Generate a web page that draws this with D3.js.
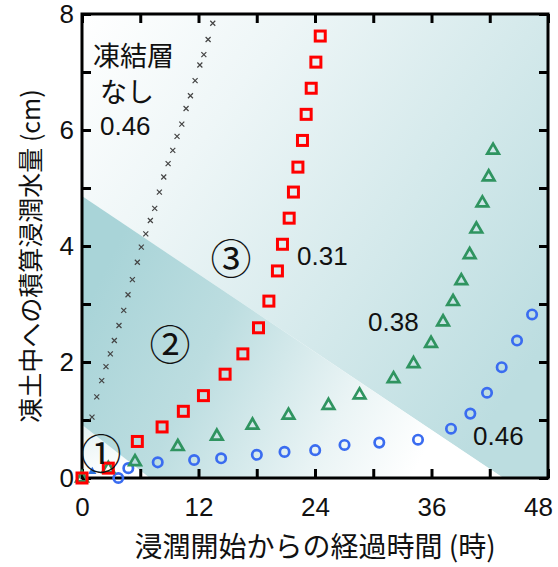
<!DOCTYPE html>
<html>
<head>
<meta charset="utf-8">
<script src="https://cdn.jsdelivr.net/npm/d3@7"></script>
<style>
  body { margin: 0; background: #fff; }
  text { fill: #111; }
</style>
</head>
<body>
<div id="chart"></div>
<script>
// --- data (hours since start of infiltration, cumulative infiltration cm) ---
const xTicks = [0, 6, 12, 18, 24, 30, 36, 42, 48];
const xLabels = [0, 12, 24, 36, 48];
const yTicks = [0, 1, 2, 3, 4, 5, 6, 7, 8];
const yLabels = [0, 2, 4, 6, 8];

// no frozen layer, 0.46
const noFrostHours = [1.03, 1.52, 2.03, 2.47, 2.92, 3.33, 3.81, 4.30, 4.74, 5.19, 5.70, 6.11, 6.57, 7.04, 7.49, 7.97, 8.42, 8.87, 9.35, 9.79, 10.28, 10.72, 11.17, 11.65, 12.14, 12.55, 12.99, 13.47];
const noFrostWater = [1.05, 1.40, 1.68, 1.92, 2.14, 2.37, 2.63, 2.89, 3.16, 3.42, 3.72, 3.98, 4.21, 4.44, 4.65, 4.93, 5.19, 5.42, 5.65, 5.89, 6.10, 6.37, 6.59, 6.85, 7.12, 7.30, 7.56, 7.84];

// 0.31 (red squares)
const s031Hours = [0, 2.71, 5.70, 8.25, 10.44, 12.51, 14.74, 16.57, 18.18, 19.25, 20.13, 20.65, 21.34, 21.78, 22.24, 22.71, 23.09, 23.61, 24.09, 24.54];
const s031Water = [0, 0.17, 0.63, 0.88, 1.15, 1.42, 1.79, 2.14, 2.59, 3.05, 3.57, 4.03, 4.48, 4.93, 5.36, 5.82, 6.27, 6.72, 7.17, 7.62];

// 0.38 (green triangles)
const s038Hours = [0, 2.71, 5.46, 9.87, 13.89, 17.56, 21.27, 25.39, 28.59, 32.09, 34.15, 35.95, 37.19, 38.22, 39.07, 39.93, 40.62, 41.24, 41.89, 42.34];
const s038Water = [0, 0.16, 0.28, 0.54, 0.72, 0.91, 1.08, 1.25, 1.43, 1.71, 1.97, 2.32, 2.69, 3.04, 3.40, 3.85, 4.29, 4.74, 5.19, 5.65];

// 0.46 (blue circles)
const s046Hours = [3.74, 4.77, 7.80, 11.55, 14.33, 18.01, 20.86, 24.02, 27.04, 30.62, 34.61, 38.01, 40.00, 41.72, 43.23, 44.81, 46.36];
const s046Water = [0, 0.17, 0.27, 0.31, 0.34, 0.40, 0.45, 0.48, 0.57, 0.61, 0.66, 0.85, 1.11, 1.47, 1.91, 2.37, 2.82];

// small filled marker near origin
const extraHours = [1.06];
const extraWater = [0.11];

// region boundaries (hours, cm)
const boundary2 = [[0, 4.86], [43.4, 0]];
const boundary1 = [[0, 0.92], [7.0, 0]];

const zip = (hs, ws) => hs.map((h, i) => ({ h: h, w: ws[i] }));

const W = 558, H = 567;
const margin = { top: 14, right: 10, bottom: 89, left: 82 };
const width = W - margin.left - margin.right;
const height = H - margin.top - margin.bottom;

const svg = d3.select('#chart').append('svg')
  .attr('width', W)
  .attr('height', H);

const defs = svg.append('defs');

const g = svg.append('g')
  .attr('transform', `translate(${margin.left},${margin.top})`);

const x = d3.scaleLinear().domain([0, 48]).range([0, width]);
const y = d3.scaleLinear().domain([0, 8]).range([height, 0]);

// --- fondos ---
const grad3 = defs.append('linearGradient')
  .attr('id', 'g3').attr('gradientUnits', 'userSpaceOnUse')
  .attr('x1', 0).attr('y1', 0).attr('x2', width).attr('y2', height * 0.7);
grad3.append('stop').attr('offset', 0).attr('stop-color', '#ffffff');
grad3.append('stop').attr('offset', 0.3).attr('stop-color', '#eef6f7');
grad3.append('stop').attr('offset', 1).attr('stop-color', '#bcdde0');

const grad2 = defs.append('linearGradient')
  .attr('id', 'g2').attr('gradientUnits', 'userSpaceOnUse')
  .attr('x1', 0).attr('y1', y(2.8)).attr('x2', x(34)).attr('y2', height);
grad2.append('stop').attr('offset', 0).attr('stop-color', '#a9d4d8');
grad2.append('stop').attr('offset', 0.35).attr('stop-color', '#bcdde0');
grad2.append('stop').attr('offset', 0.75).attr('stop-color', '#eaf4f5');
grad2.append('stop').attr('offset', 1).attr('stop-color', '#ffffff');

const grad1 = defs.append('linearGradient')
  .attr('id', 'g1').attr('gradientUnits', 'userSpaceOnUse')
  .attr('x1', 0).attr('y1', y(0.9)).attr('x2', x(2)).attr('y2', height);
grad1.append('stop').attr('offset', 0).attr('stop-color', '#e4f1f2');
grad1.append('stop').attr('offset', 1).attr('stop-color', '#ffffff');

const line = d3.line().x(d => x(d[0])).y(d => y(d[1]));

g.append('path')
  .attr('d', line([[0, 8], [48, 8], [48, 0], boundary2[1], boundary2[0]]) + 'Z')
  .attr('fill', 'url(#g3)');
g.append('path')
  .attr('d', line([boundary2[0], boundary2[1], [0, 0]]) + 'Z')
  .attr('fill', 'url(#g2)');
g.append('path')
  .attr('d', line([boundary1[0], boundary1[1], [0, 0]]) + 'Z')
  .attr('fill', 'url(#g1)');

// --- ejes ---
const fmtX = d => xLabels.includes(d) ? d : '';
const fmtY = d => yLabels.includes(d) ? d : '';

function styleAxis(sel) {
  sel.select('.domain').remove();
  sel.selectAll('.tick line').attr('stroke', '#000').attr('stroke-width', 3);
  sel.selectAll('.tick text')
    .attr('font-family', 'Liberation Sans, Arial, sans-serif')
    .attr('font-size', 26)
    .style('fill', '#111');
}

const xAxisG = g.append('g')
  .attr('transform', `translate(0,${height})`)
  .call(d3.axisBottom(x).tickValues(xTicks).tickFormat(fmtX).tickSize(-9).tickPadding(20))
  .call(styleAxis);
// el 48 queda un poco a la izquierda como en el original
xAxisG.selectAll('.tick text').filter(d => d === 48).attr('dx', -10);

g.append('g')
  .call(d3.axisTop(x).tickValues(xTicks).tickFormat('').tickSize(-9))
  .call(styleAxis);
g.append('g')
  .call(d3.axisLeft(y).tickValues(yTicks).tickFormat(fmtY).tickSize(-9).tickPadding(8))
  .call(styleAxis);
g.append('g')
  .attr('transform', `translate(${width},0)`)
  .call(d3.axisRight(y).tickValues(yTicks).tickFormat('').tickSize(-9))
  .call(styleAxis);

g.selectAll('.tick text').filter(function() { return this.textContent === ''; }).remove();

g.append('rect')
  .attr('width', width).attr('height', height)
  .attr('fill', 'none').attr('stroke', '#000').attr('stroke-width', 3);

// --- series ---
const marks = g.append('g');

marks.selectAll('.nofrost')
  .data(zip(noFrostHours, noFrostWater))
  .join('path')
  .attr('class', 'nofrost')
  .attr('transform', d => `translate(${x(d.h)},${y(d.w)})`)
  .attr('d', 'M-2.5,-2.5L2.5,2.5M-2.5,2.5L2.5,-2.5')
  .attr('stroke', '#444')
  .attr('stroke-width', 1.2)
  .attr('fill', 'none');

marks.selectAll('.extra')
  .data(zip(extraHours, extraWater))
  .join('path')
  .attr('class', 'extra')
  .attr('transform', d => `translate(${x(d.h)},${y(d.w)})`)
  .attr('d', d3.symbol(d3.symbolTriangle, 30))
  .attr('fill', '#2a6fdb');

marks.selectAll('.s046')
  .data(zip(s046Hours, s046Water))
  .join('circle')
  .attr('class', 's046')
  .attr('cx', d => x(d.h))
  .attr('cy', d => y(d.w))
  .attr('r', 4.7)
  .attr('fill', 'none')
  .attr('stroke', '#3a6cf0')
  .attr('stroke-width', 2.7);

marks.selectAll('.s038')
  .data(zip(s038Hours, s038Water))
  .join('path')
  .attr('class', 's038')
  .attr('transform', d => `translate(${x(d.h)},${y(d.w)})`)
  .attr('d', d3.symbol(d3.symbolTriangle, 58))
  .attr('fill', 'none')
  .attr('stroke', '#2f9460')
  .attr('stroke-width', 2.7);

marks.selectAll('.s031')
  .data(zip(s031Hours, s031Water))
  .join('rect')
  .attr('class', 's031')
  .attr('x', d => x(d.h) - 5)
  .attr('y', d => y(d.w) - 5)
  .attr('width', 10)
  .attr('height', 10)
  .attr('fill', 'none')
  .attr('stroke', '#ff0000')
  .attr('stroke-width', 3);

// --- anotaciones ---
const jp = '"Noto Sans CJK JP", sans-serif';
const num = 'Liberation Sans, Arial, sans-serif';
const notes = [
  { t: '凍結層', h: 1.13, w: 7.1, f: jp, s: 27, a: 'start' },
  { t: 'なし', h: 1.85, w: 6.48, f: jp, s: 27, a: 'start' },
  { t: '0.46', h: 1.85, w: 5.91, f: num, s: 26, a: 'start' },
  { t: '0.31', h: 22.15, w: 3.67, f: num, s: 26, a: 'start' },
  { t: '0.38', h: 29.46, w: 2.53, f: num, s: 26, a: 'start' },
  { t: '0.46', h: 40.28, w: 0.57, f: num, s: 26, a: 'start' },
  { t: '③', h: 15.35, w: 3.83, f: jp, s: 41, a: 'middle', c: true },
  { t: '②', h: 9.06, w: 2.34, f: jp, s: 41, a: 'middle', c: true },
  { t: '①', h: 1.96, w: 0.47, f: jp, s: 41, a: 'middle', c: true }
];

g.selectAll('.note')
  .data(notes)
  .join('text')
  .attr('class', 'note')
  .attr('x', d => x(d.h))
  .attr('y', d => y(d.w))
  .attr('text-anchor', d => d.a)
  .attr('dominant-baseline', d => d.c ? 'central' : null)
  .attr('font-family', d => d.f)
  .attr('font-size', d => d.s)
  .text(d => d.t);

// --- títulos de ejes ---
svg.append('text')
  .attr('x', 315)
  .attr('y', 557)
  .attr('text-anchor', 'middle')
  .attr('font-family', jp)
  .attr('font-size', 28)
  .text('浸潤開始からの経過時間 (時)');

svg.append('text')
  .attr('transform', `translate(40,${256}) rotate(-90)`)
  .attr('text-anchor', 'middle')
  .attr('font-family', jp)
  .attr('font-size', 25)
  .text('凍土中への積算浸潤水量 (cm)');
</script>
</body>
</html>
